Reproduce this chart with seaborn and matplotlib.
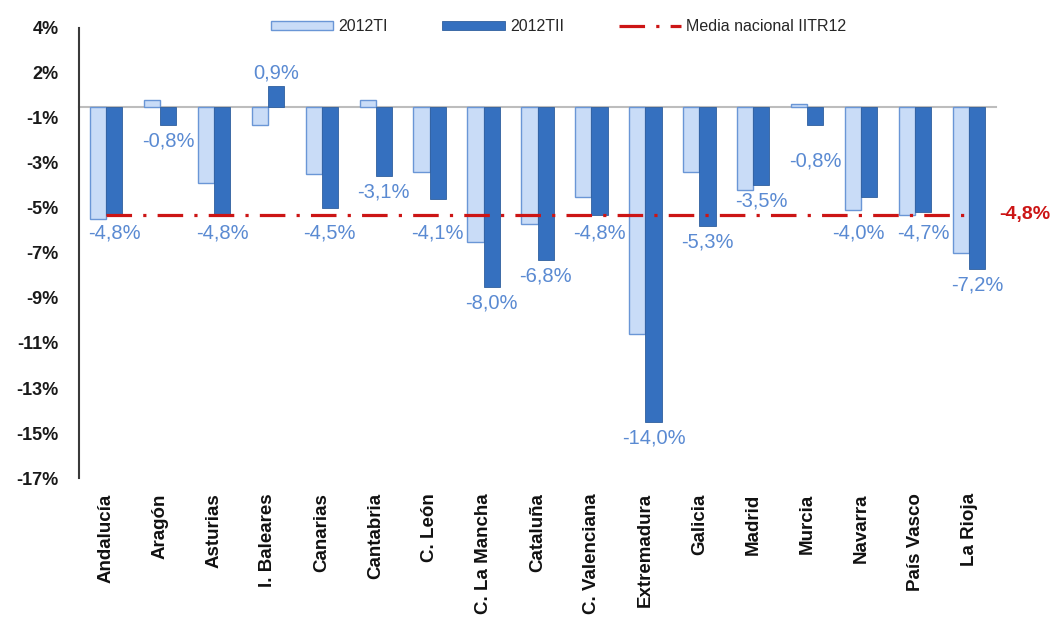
import numpy as np
import pandas as pd
import matplotlib
matplotlib.use("Agg")
import matplotlib.pyplot as plt
import seaborn as sns
from matplotlib.patches import Patch
from matplotlib.lines import Line2D

# ---- data ----
regions = ["Andalucía", "Aragón", "Asturias", "I. Baleares", "Canarias", "Cantabria",
           "C. León", "C. La Mancha", "Cataluña", "C. Valenciana", "Extremadura",
           "Galicia", "Madrid", "Murcia", "Navarra", "País Vasco", "La Rioja"]
t1_2012 = [-5.0, 0.3, -3.4, -0.8, -3.0, 0.3, -2.9, -6.0, -5.2, -4.0, -10.1,
           -2.9, -3.7, 0.1, -4.6, -4.8, -6.5]
t2_2012 = [-4.8, -0.8, -4.8, 0.9, -4.5, -3.1, -4.1, -8.0, -6.8, -4.8, -14.0,
           -5.3, -3.5, -0.8, -4.0, -4.7, -7.2]
media_nacional = -4.8
series_names = ["2012TI", "2012TII"]
media_name = "Media nacional IITR12"
ytick_values = [3.5, 1.5, -0.5, -2.5, -4.5, -6.5, -8.5, -10.5, -12.5, -14.5, -16.5]
ytick_labels = ["4%", "2%", "-1%", "-3%", "-5%", "-7%", "-9%", "-11%", "-13%", "-15%", "-17%"]

df = pd.DataFrame({
    "region": regions * 2,
    "period": [series_names[0]] * len(regions) + [series_names[1]] * len(regions),
    "value": t1_2012 + t2_2012,
})

c_light = "#C9DCF7"
c_light_edge = "#6A96D6"
c_dark = "#3570BF"
c_dark_edge = "#2F5F9E"
c_label = "#5A8AD2"
c_red = "#CC1515"

sns.set_style("white")
plt.rcParams["font.family"] = ["Liberation Sans", "DejaVu Sans"]

fig = plt.figure(figsize=(10.54, 6.34), dpi=100)
ax = fig.add_axes([0.075, 0.246, 0.870, 0.710])

sns.barplot(data=df, x="region", y="value", hue="period",
            palette=[c_light, c_dark], width=0.6, gap=0, saturation=1,
            legend=False, ax=ax, zorder=3)

for p in ax.containers[0]:
    p.set_edgecolor(c_light_edge)
    p.set_linewidth(1.0)
for p in ax.containers[1]:
    p.set_edgecolor(c_dark_edge)
    p.set_linewidth(0.6)

# national average line
xs = np.arange(len(regions))
dash = (0, (8, 3.5, 1, 3.5))
ax.plot(xs, [media_nacional] * len(regions), color=c_red, lw=2.3,
        linestyle=dash, zorder=4)
ax.annotate(f"{media_nacional:.1f}%".replace(".", ","), xy=(xs[-1], media_nacional),
            xytext=(22, 0), textcoords="offset points", ha="left", va="center",
            color=c_red, fontsize=14, fontweight="bold", annotation_clip=False)

# data labels on 2012TII (labels just above the average line are moved below it)
extra_shift = {"Murcia": (0, -15), "Navarra": (-8, 0)}  # manual nudges seen in the original (points)
for bar, v, name in zip(ax.containers[1], t2_2012, regions):
    xc = bar.get_x() + bar.get_width() / 2
    txt = f"{v:.1f}%".replace(".", ",")
    if v >= 0:
        y, off = v, 10
    elif media_nacional - 0.05 <= v < media_nacional + 1.0:
        y, off = media_nacional, -13
    else:
        y, off = v, -11.5
    dx, dy = extra_shift.get(name, (0, 0))
    ax.annotate(txt, xy=(xc, y), xytext=(dx, off + dy), textcoords="offset points",
                ha="center", va="center", color=c_label, fontsize=14.5, zorder=5)

# axes styling
n = len(regions)
ax.set_xlim(-0.5, n - 0.5)
ax.set_ylim(-16.5, 3.5)
ax.set_yticks(ytick_values, labels=ytick_labels)
ax.tick_params(axis="y", direction="inout", length=9, width=1.3, color="#333333",
               labelsize=13, labelcolor="#1a1a1a", pad=10)
for t in ax.get_yticklabels():
    t.set_fontweight("bold")
ax.set_xlabel("")
ax.set_ylabel("")
for s in ["top", "right"]:
    ax.spines[s].set_visible(False)
ax.spines["left"].set_color("#3a3a3a")
ax.spines["left"].set_linewidth(1.5)
ax.spines["bottom"].set_position(("data", 0))
ax.spines["bottom"].set_color("#BDBDBD")
ax.spines["bottom"].set_linewidth(1.5)
ax.spines["bottom"].set_zorder(2)
ax.set_xticks(np.arange(-0.5, n, 1.0))
ax.set_xticklabels([])
ax.tick_params(axis="x", direction="inout", length=10, width=1.2, color="#BDBDBD")

sec = ax.secondary_xaxis("bottom")
sec.set_xticks(xs, labels=regions, rotation=90, fontsize=13.5, fontweight="bold",
               color="#111111")
sec.tick_params(length=0, pad=11)
sec.spines["bottom"].set_visible(False)

# legend
handles = [
    Patch(facecolor=c_light, edgecolor=c_light_edge, linewidth=1.0),
    Patch(facecolor=c_dark, edgecolor=c_dark_edge, linewidth=0.6),
    Line2D([0], [0], color=c_red, lw=2.3, linestyle=dash),
]
fig.legend(handles, series_names + [media_name], loc="center",
           bbox_to_anchor=(0.53, 0.958), ncol=3, frameon=False, fontsize=11.5,
           handlelength=3.9, handleheight=0.55, handletextpad=0.35,
           columnspacing=3.4)

fig.savefig("out.png", dpi=100)
